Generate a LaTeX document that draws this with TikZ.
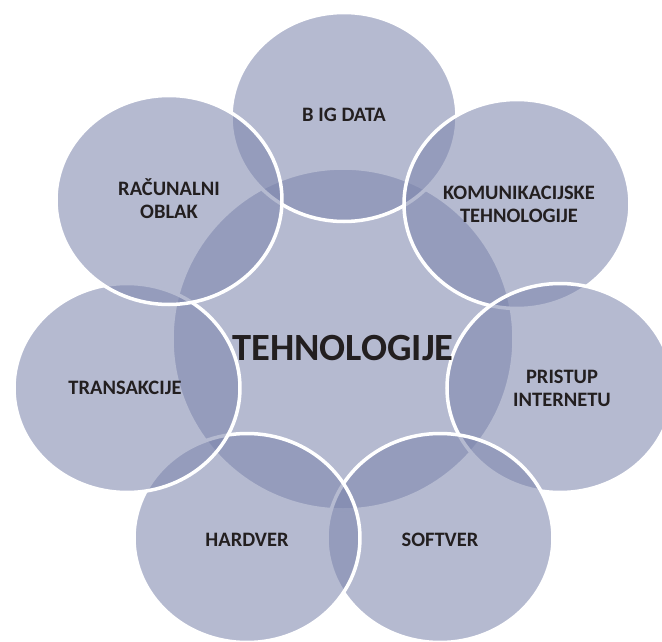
\documentclass[tikz,border=0pt]{standalone}
\usepackage{fontspec}
\setmainfont{Carlito}
\usetikzlibrary{shapes.geometric}
\definecolor{bubblefill}{RGB}{125,134,173}
\definecolor{bubbleink}{RGB}{35,31,32}
\tikzset{
    bubble/.style={
        ellipse,
        draw=white, draw opacity=1,
        line width=3.5pt,
        fill=bubblefill, fill opacity=0.57,
        minimum width=226pt, minimum height=209pt,
        inner sep=0pt
    },
    hub/.style={bubble, circle, minimum size=342pt},
    bubbletext/.style={
        text=bubbleink, align=center,
        font=\fontsize{20.5pt}{23pt}\selectfont\bfseries
    },
    hubtext/.style={
        text=bubbleink,
        font=\fontsize{38.5pt}{44pt}\selectfont\bfseries
    }
}

\begin{document}
\begin{tikzpicture}[x=1pt,y=1pt]
	\useasboundingbox (-343,-302) rectangle (319,339);
	% shapes, drawn clockwise from the top
	\node[hub] (tech) at (0,0) {};
	\node[bubble] (bigdata) at (1,222) {};
	\node[bubble] (komun) at (174,135) {};
	\node[bubble] (pristup) at (217,-49) {};
	\node[bubble] (softver) at (97,-199) {};
	\node[bubble] (hardver) at (-96,-199) {};
	\node[bubble] (trans) at (-216,-49) {};
	\node[bubble] (oblak) at (-174,139) {};
	% texts on top
	\node[hubtext] at ([yshift=-9pt]tech.center) {TEHNOLOGIJE};
	\node[bubbletext] at ([yshift=2pt]bigdata.center) {B IG DATA};
	\node[bubbletext] at ([xshift=2pt]komun.center) {KOMUNIKACIJSKE\\TEHNOLOGIJE};
	\node[bubbletext] at ([xshift=2pt]pristup.center) {PRISTUP\\INTERNETU};
	\node[bubbletext] at ([yshift=-2pt]softver.center) {SOFTVER};
	\node[bubbletext] at ([yshift=-2pt]hardver.center) {HARDVER};
	\node[bubbletext] at ([xshift=-2pt]trans.center) {TRANSAKCIJE};
	\node[bubbletext] at ([yshift=1pt]oblak.center) {RAČUNALNI\\OBLAK};
\end{tikzpicture}
\end{document}
